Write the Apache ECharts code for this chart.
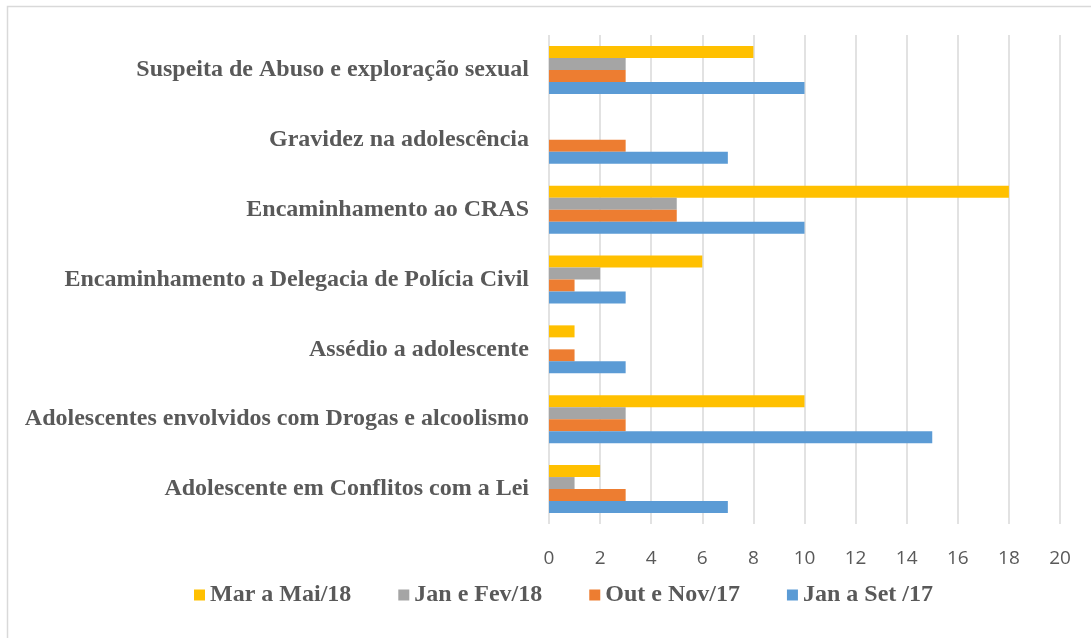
<!DOCTYPE html>
<html>
<head>
<meta charset="utf-8">
<script src="https://cdn.jsdelivr.net/npm/echarts@6/dist/echarts.min.js"></script>
<style>
  html, body { margin: 0; padding: 0; background: #fff; }
  #chart { width: 1091px; height: 638px; }
</style>
</head>
<body>
<div id="chart"></div>
<script>
// categorias (de baixo para cima)
var categorias = [
  'Adolescente em Conflitos com a Lei',
  'Adolescentes envolvidos com Drogas e alcoolismo',
  'Assédio a adolescente',
  'Encaminhamento a Delegacia de Polícia Civil',
  'Encaminhamento ao CRAS',
  'Gravidez na adolescência',
  'Suspeita de Abuso e exploração sexual'
];
var marMai18 = [2, 10, 1, 6, 18, 0, 8];
var janFev18 = [1, 3, 0, 2, 5, 0, 3];
var outNov17 = [3, 3, 1, 1, 5, 3, 3];
var janSet17 = [7, 15, 3, 3, 10, 7, 10];
var ticksX = [0, 2, 4, 6, 8, 10, 12, 14, 16, 18, 20];

// a primeira serie fica em cima em cada grupo
var nomes = ['Mar a Mai/18', 'Jan e Fev/18', 'Out e Nov/17', 'Jan a Set /17'];
var cores = ['#FFC000', '#A5A5A5', '#ED7D31', '#5B9BD5'];
var valores = [marMai18, janFev18, outNov17, janSet17];

var myChart = echarts.init(document.getElementById('chart'));

var series = [];
for (var i = 0; i < nomes.length; i++) {
  series.push({
    name: nomes[i],
    type: 'bar',
    barWidth: 12,
    barGap: '0%',
    itemStyle: { color: cores[i] },
    data: valores[i]
  });
}

myChart.setOption({
  animation: false,
  graphic: [{
    type: 'rect',
    shape: { x: 7.5, y: 6.5, width: 1200, height: 800 },
    style: { fill: 'none', stroke: '#D9D9D9', lineWidth: 1.5 },
    silent: true
  }],
  grid: { left: 549, right: 31, top: 35, bottom: 114 },
  legend: {
    data: nomes,
    left: 189,
    top: 578,
    icon: 'rect',
    itemWidth: 11,
    itemHeight: 11,
    itemGap: 47,
    textStyle: {
      fontFamily: 'Liberation Serif',
      fontWeight: 'bold',
      fontSize: 24,
      color: '#595959'
    }
  },
  xAxis: {
    type: 'value',
    min: ticksX[0],
    max: ticksX[ticksX.length - 1],
    interval: 2,
    axisLine: { show: false },
    axisTick: { show: false },
    splitLine: { lineStyle: { color: '#D9D9D9', width: 1.5 } },
    axisLabel: {
      margin: 25,
      fontFamily: 'Open Sans',
      fontSize: 19,
      color: '#595959'
    }
  },
  yAxis: {
    type: 'category',
    data: categorias,
    axisLine: { show: false },
    axisTick: { show: false },
    axisLabel: {
      margin: 20,
      fontFamily: 'Liberation Serif',
      fontWeight: 'bold',
      fontSize: 24,
      color: '#595959'
    }
  },
  series: series
});
</script>
</body>
</html>
